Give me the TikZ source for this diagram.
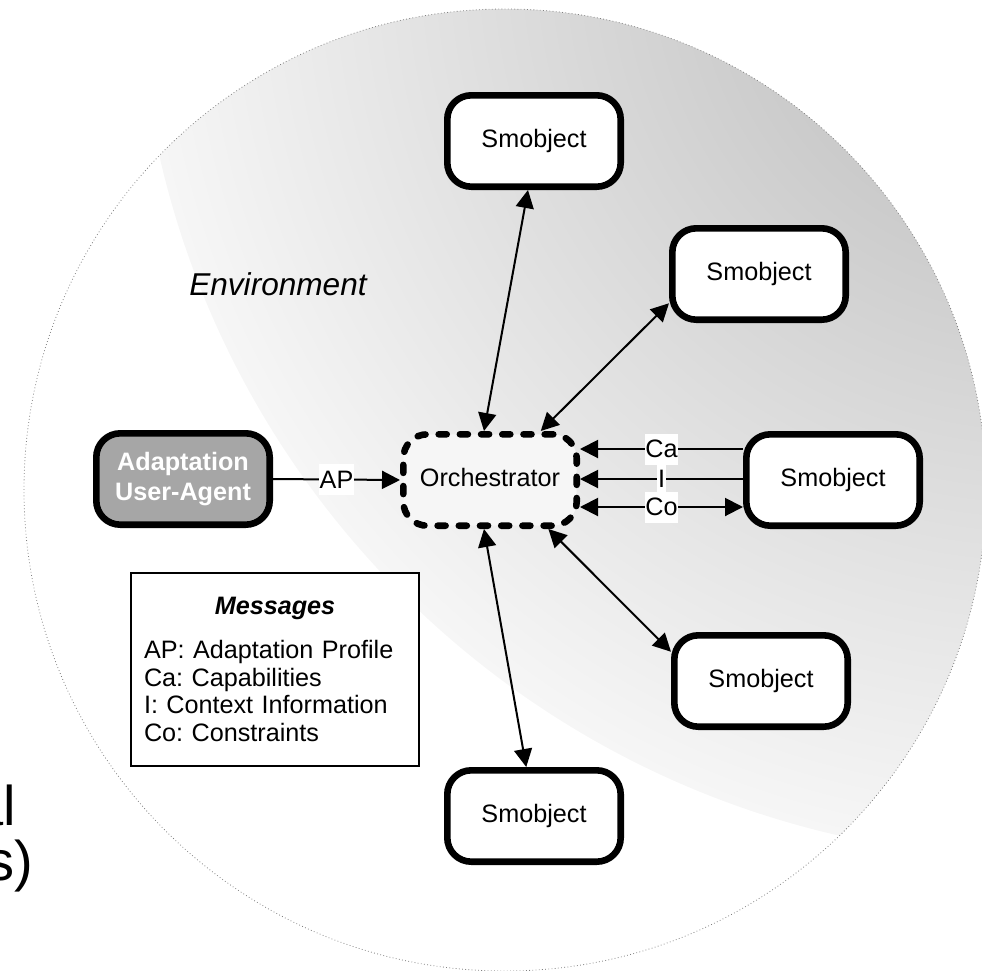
\documentclass[tikz,border=0pt]{standalone}
\usepackage{fontspec}
\setmainfont{Liberation Sans}
\usetikzlibrary{arrows.meta}
\newcommand\bordw{3.3pt}
\newcommand\txtsize{\fontsize{12.6}{15}\selectfont}
\definecolor{envdark}{gray}{0.72}
\definecolor{envlight}{gray}{0.965}
\definecolor{agentgray}{gray}{0.65}
\pgfdeclareradialshading{envshade}{\pgfpoint{0bp}{0bp}}{color(0bp)=(envdark); color(25bp)=(envlight); color(50bp)=(envlight)}

\begin{document}
\begin{tikzpicture}[x=0.5pt, y=-0.5pt,
  box/.style={rectangle, rounded corners=12pt, line width=\bordw, minimum width=86.7pt, minimum height=45.7pt, inner sep=0pt, align=center, font=\txtsize},
  smobj/.style={box, draw, fill=white, text height=9.2pt, text depth=2.6pt},
  link/.style={line width=1pt},
  lbl/.style={fill=white, inner xsep=0.3pt, inner ysep=0pt, minimum height=15.5pt, font=\txtsize},
  >={Triangle[length=9pt, width=9pt]}]
\useasboundingbox (0, 0) rectangle (982, 971);
\clip (0, 0) rectangle (982, 971);

    %environment
    \begin{scope}
    \clip (505, 490) circle (240.5pt);
    \shade [shading=envshade] (1040, -45) circle (451.5pt);
    \end{scope}
    \draw [gray, line width=0.4pt, dash pattern=on 0.4pt off 1.2pt] (505, 490) circle (240.5pt);

\node at (278, 295) [anchor=base, font=\fontsize{15.8}{19}\selectfont\itshape] (env) {Environment};
\node at (16, 825) [anchor=base east, inner sep=0pt, font=\fontsize{28}{34}\selectfont] (al) {al};
\node at (33.5, 880) [anchor=base east, inner sep=0pt, font=\fontsize{28}{34}\selectfont] (sp) {s)};

    \node at (534, 141) [smobj] (s1) {Smobject};
    \node at (759, 274) [smobj] (s2) {Smobject};
    \node at (833, 480) [smobj] (s3) {Smobject};
    \node at (761, 681) [smobj] (s4) {Smobject};
    \node at (534, 816) [smobj] (s5) {Smobject};

\node at (490, 480) [box, draw, fill=gray!7, dash pattern=on 4pt off 6.6pt, line cap=round, text height=9.2pt, text depth=2.6pt] (orch) {Orchestrator};
\node at (183, 479) [box, draw, fill=agentgray, text=white, font=\txtsize\bfseries] (ua) {Adaptation\\User-Agent};

    %legend
    \node at (275, 669.5) [draw, line width=0.8pt, fill=white, text width=131pt, inner xsep=6.5pt, minimum height=96.7pt, align=left, font=\fontsize{12.6}{13.75}\selectfont\frenchspacing] (legend) {\makebox[131pt]{\bfseries\itshape Messages}\\[8.25pt]AP: Adaptation Profile\\Ca: Capabilities\\I: Context Information\\Co: Constraints};

    %profile to orchestrator
    \draw [link, ->] (ua.east) -- (orch.west) node [lbl, midway] (ap) {AP};

    %orchestrator and smobjects
    \draw [link, <->] (orch.97) -- (s1.263);
    \draw [link, <->] (orch.44) -- (s2.198);
    \draw [link, <->] (orch.-40) -- (s4.162);
    \draw [link, <->] (orch.263) -- (s5.99);

    \draw [link, <-] ([yshift=15.5pt]orch.east) -- ([yshift=15.5pt]s3.west) node [lbl, midway] (ca) {Ca};
    \draw [link, <-] ([yshift=0.5pt]orch.east) -- ([yshift=0.5pt]s3.west) node [lbl, midway] (ci) {I};
    \draw [link, <->] ([yshift=-13.5pt]orch.east) -- ([yshift=-13.5pt]s3.west) node [lbl, midway] (co) {Co};
\end{tikzpicture}
\end{document}
